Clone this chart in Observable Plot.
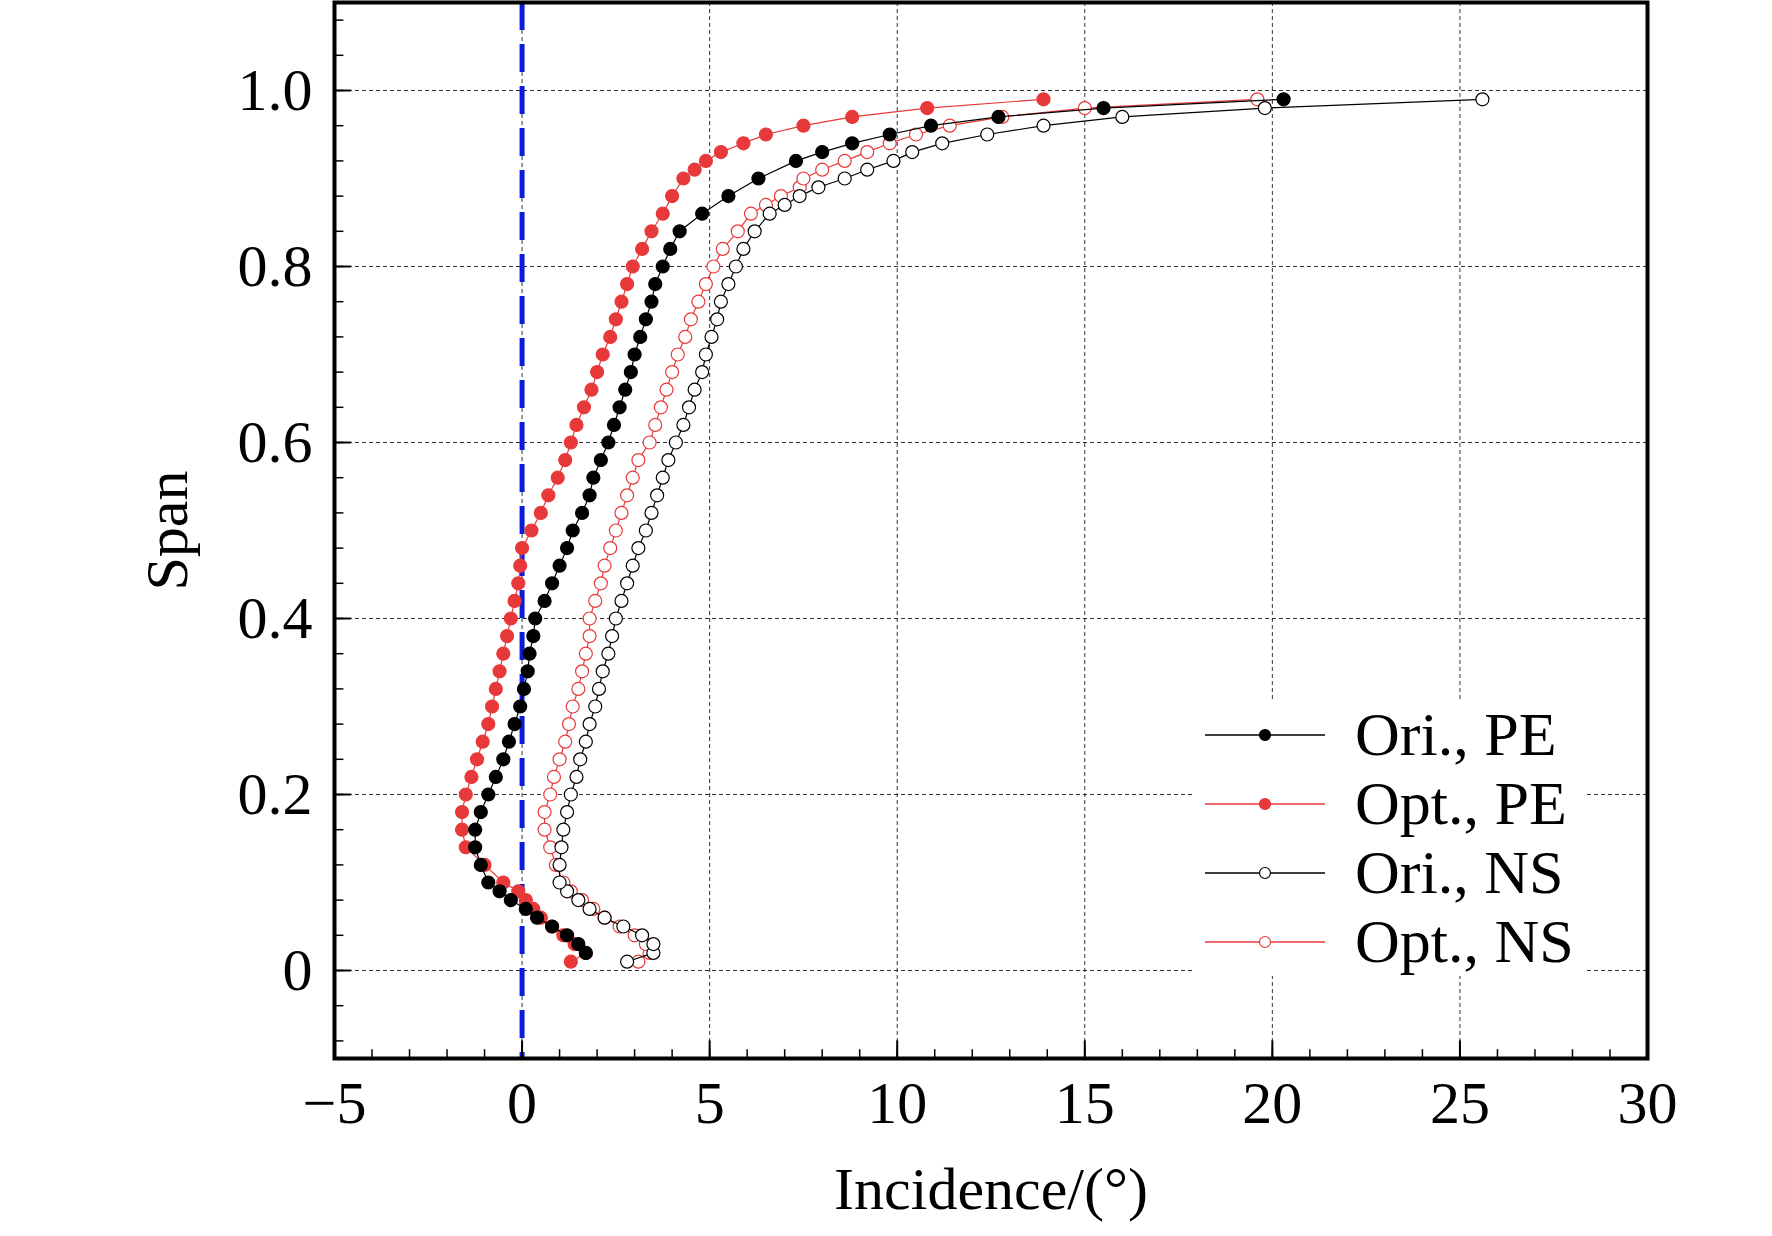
<!DOCTYPE html>
<html><head><meta charset="utf-8">
<script src="https://cdn.jsdelivr.net/npm/d3@7"></script>
<script src="https://cdn.jsdelivr.net/npm/@observablehq/plot@0.6"></script>
<style>
body{margin:0;background:#fff;font-family:"Liberation Serif",serif;}
#wrap{position:relative;width:1772px;height:1236px;}
#legend{position:absolute;left:1195px;top:700px;background:#fff;padding:0 12px 0 10px;font-size:62px;line-height:69px;}
#legend div{display:flex;align-items:center;}
#legend svg{margin-right:30px;}
</style></head><body><div id="wrap"><div id="chart"></div><div id="legend"></div></div>
<script>
const oriPE_span=[0.02,0.03,0.04,0.05,0.06,0.07,0.08,0.09,0.10,0.12,0.14,0.16,0.18,0.20,0.22,0.24,0.26,0.28,0.30,0.32,0.34,0.36,0.38,0.40,0.42,0.44,0.46,0.48,0.50,0.52,0.54,0.56,0.58,0.60,0.62,0.64,0.66,0.68,0.70,0.72,0.74,0.76,0.78,0.80,0.82,0.84,0.86,0.88,0.90,0.92,0.93,0.94,0.95,0.96,0.97,0.98,0.99];
const oriPE_inc=[1.7,1.5,1.2,0.8,0.4,0.1,-0.3,-0.6,-0.9,-1.1,-1.25,-1.25,-1.1,-0.9,-0.7,-0.5,-0.35,-0.2,-0.05,0.05,0.15,0.2,0.3,0.35,0.6,0.8,1.0,1.2,1.35,1.6,1.8,1.9,2.1,2.3,2.45,2.6,2.75,2.9,3.0,3.15,3.3,3.45,3.55,3.75,3.95,4.2,4.8,5.5,6.3,7.3,8.0,8.8,9.8,10.9,12.7,15.5,20.3];
const optPE_span=[0.01,0.02,0.03,0.04,0.05,0.06,0.07,0.08,0.09,0.10,0.12,0.14,0.16,0.18,0.20,0.22,0.24,0.26,0.28,0.30,0.32,0.34,0.36,0.38,0.40,0.42,0.44,0.46,0.48,0.50,0.52,0.54,0.56,0.58,0.60,0.62,0.64,0.66,0.68,0.70,0.72,0.74,0.76,0.78,0.80,0.82,0.84,0.86,0.88,0.90,0.91,0.92,0.93,0.94,0.95,0.96,0.97,0.98,0.99];
const optPE_inc=[1.3,1.7,1.4,1.1,0.8,0.5,0.3,0.1,-0.1,-0.5,-1.0,-1.5,-1.6,-1.6,-1.5,-1.35,-1.2,-1.05,-0.9,-0.8,-0.7,-0.6,-0.5,-0.4,-0.3,-0.2,-0.1,-0.05,0.0,0.25,0.5,0.7,0.95,1.15,1.3,1.45,1.65,1.85,2.0,2.15,2.35,2.5,2.65,2.8,2.95,3.2,3.45,3.75,4.0,4.3,4.6,4.9,5.3,5.9,6.5,7.5,8.8,10.8,13.9];
const oriNS_span=[0.01,0.02,0.03,0.04,0.05,0.06,0.07,0.08,0.09,0.10,0.12,0.14,0.16,0.18,0.20,0.22,0.24,0.26,0.28,0.30,0.32,0.34,0.36,0.38,0.40,0.42,0.44,0.46,0.48,0.50,0.52,0.54,0.56,0.58,0.60,0.62,0.64,0.66,0.68,0.70,0.72,0.74,0.76,0.78,0.80,0.82,0.84,0.86,0.87,0.88,0.89,0.90,0.91,0.92,0.93,0.94,0.95,0.96,0.97,0.98,0.99];
const oriNS_inc=[2.8,3.5,3.5,3.2,2.7,2.2,1.8,1.5,1.2,1.0,1.0,1.05,1.1,1.2,1.3,1.45,1.55,1.7,1.8,1.95,2.05,2.15,2.3,2.4,2.5,2.65,2.8,2.95,3.1,3.3,3.45,3.6,3.75,3.9,4.1,4.3,4.45,4.6,4.8,4.9,5.05,5.2,5.3,5.5,5.7,5.9,6.2,6.6,7.0,7.4,7.9,8.6,9.2,9.9,10.4,11.2,12.4,13.9,16.0,19.8,25.6];
const optNS_span=[0.01,0.02,0.03,0.04,0.05,0.06,0.07,0.08,0.09,0.10,0.12,0.14,0.16,0.18,0.20,0.22,0.24,0.26,0.28,0.30,0.32,0.34,0.36,0.38,0.40,0.42,0.44,0.46,0.48,0.50,0.52,0.54,0.56,0.58,0.60,0.62,0.64,0.66,0.68,0.70,0.72,0.74,0.76,0.78,0.80,0.82,0.84,0.86,0.87,0.88,0.89,0.90,0.91,0.92,0.93,0.94,0.95,0.96,0.97,0.98,0.99];
const optNS_inc=[3.1,3.4,3.3,3.0,2.6,2.2,1.9,1.6,1.3,1.1,0.9,0.75,0.6,0.6,0.75,0.85,1.0,1.15,1.25,1.35,1.5,1.6,1.7,1.8,1.8,1.95,2.1,2.2,2.35,2.5,2.65,2.8,2.95,3.1,3.4,3.55,3.7,3.85,4.0,4.15,4.35,4.5,4.7,4.9,5.1,5.35,5.75,6.1,6.5,6.9,7.4,7.5,8.0,8.6,9.2,9.8,10.5,11.4,12.8,15.0,19.6];
const xTicks=[-5,0,5,10,15,20,25,30];
const yTicks=[0,0.2,0.4,0.6,0.8,1.0];
const yTickLabels=["0","0.2","0.4","0.6","0.8","1.0"];
const seriesNames=["Ori., PE","Opt., PE","Ori., NS","Opt., NS"];
const seriesColors=["#000000","#e8393a","#000000","#e8393a"];
const seriesFilled=[true,true,false,false];

const series=[[oriPE_span,oriPE_inc],[optPE_span,optPE_inc],[oriNS_span,oriNS_inc],[optNS_span,optNS_inc]].map(([s,v],k)=>s.map((y,i)=>({x:v[i],y,k})));
const xMinor=d3.range(-5,30.01,1), yMinor=d3.range(-0.08,1.1,0.04);
const marks=[
  Plot.ruleX(xTicks.slice(1,-1),{stroke:"#000",strokeOpacity:0.8,strokeDasharray:"4,3",strokeWidth:1}),
  Plot.ruleY(yTicks,{stroke:"#000",strokeOpacity:0.8,strokeDasharray:"4,3",strokeWidth:1}),
  Plot.ruleX([0],{stroke:"#0a1cd8",strokeWidth:5,strokeDasharray:"28,14"})
];
[3,2,1,0].forEach(k=>{
  const d=series[k];
  marks.push(Plot.line(d,{x:"x",y:"y",stroke:seriesColors[k],strokeWidth:1.2}));
  marks.push(Plot.dot(d,{x:"x",y:"y",r:6.5,fill:seriesFilled[k]?seriesColors[k]:"#fff",stroke:seriesColors[k],strokeWidth:1.2}));
});
marks.push(
  Plot.ruleX(xMinor,{x:d=>d,y1:-0.1,y2:-0.09,stroke:"#000",strokeWidth:1.5}),
  Plot.ruleY(yMinor,{y:d=>d,x1:-5,x2:-4.75,stroke:"#000",strokeWidth:1.5}),
  Plot.ruleX(xTicks,{x:d=>d,y1:-0.1,y2:-0.08,stroke:"#000",strokeWidth:2}),
  Plot.ruleY(yTicks,{y:d=>d,x1:-5,x2:-4.55,stroke:"#000",strokeWidth:2}),
  Plot.frame({stroke:"#000",strokeWidth:4})
);
const chart=Plot.plot({
  width:1772,height:1236,marginLeft:334,marginRight:125,marginTop:2,marginBottom:178,
  style:{fontFamily:"Liberation Serif, serif",fontSize:"60px",background:"#fff"},
  x:{domain:[-5,30],ticks:xTicks,tickSize:0,tickPadding:22,tickFormat:d=>d<0?"\u2212"+(-d):String(d),label:"Incidence/(°)",labelAnchor:"center",labelArrow:"none",labelOffset:150},
  y:{domain:[-0.1,1.1],ticks:yTicks,tickSize:0,tickPadding:22,tickFormat:d=>yTickLabels[yTicks.indexOf(d)],label:"Span",labelAnchor:"center",labelArrow:"none",labelOffset:190},
  marks
});
document.getElementById("chart").appendChild(chart);
const lg=document.getElementById("legend");
seriesNames.forEach((n,k)=>{
  const row=document.createElement("div");
  row.innerHTML=`<svg width="120" height="20"><line x1="0" y1="10" x2="120" y2="10" stroke="${seriesColors[k]}" stroke-width="1.5"/><circle cx="60" cy="10" r="5.5" fill="${seriesFilled[k]?seriesColors[k]:"#fff"}" stroke="${seriesColors[k]}" stroke-width="1.2"/></svg><span>${n}</span>`;
  lg.appendChild(row);
});
</script></body></html>
